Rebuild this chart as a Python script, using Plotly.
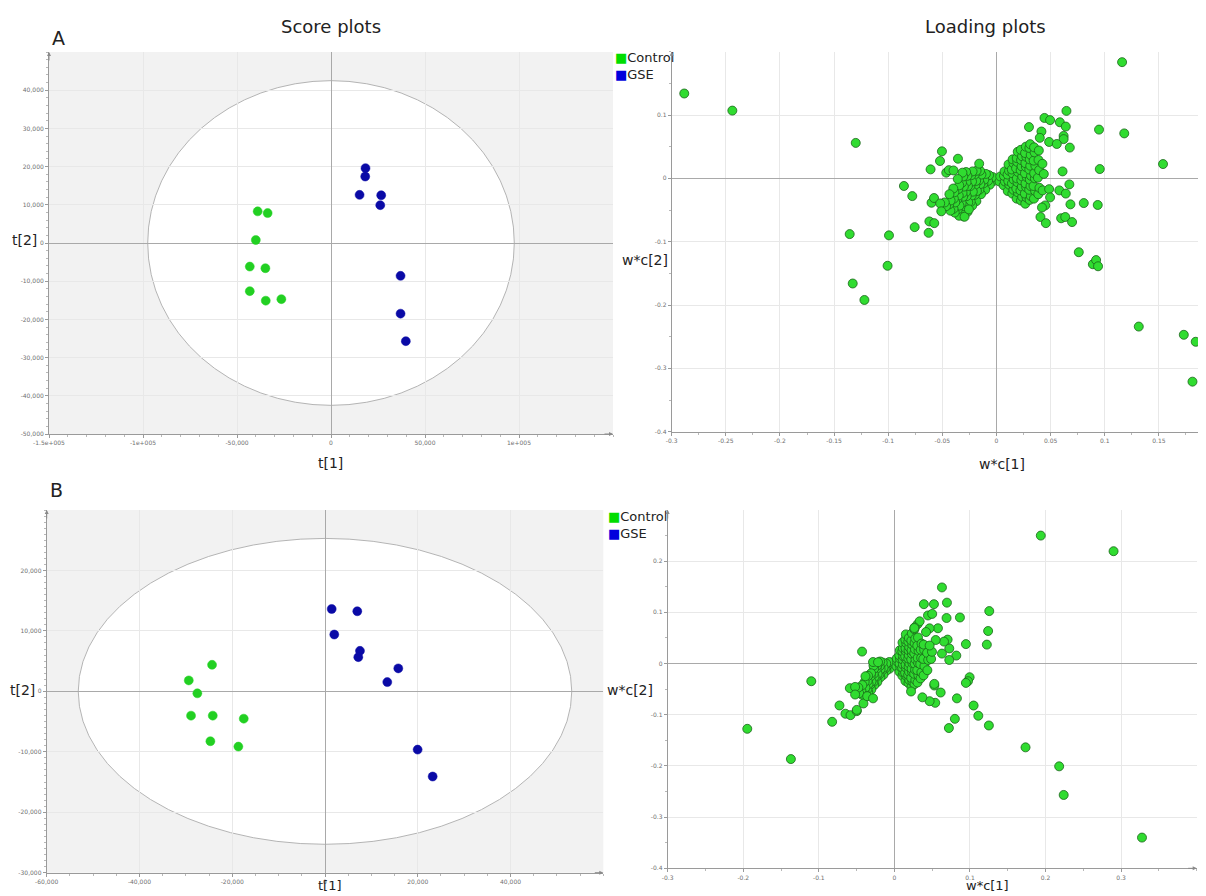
import plotly.graph_objects as go

# ---------------- DATA ----------------
# A - score plot
scoreA_ctrl_t1 = [-39000, -33700, -40000, -43200, -34900, -43200, -34700, -26400]
scoreA_ctrl_t2 = [8280, 7830, 780, -6170, -6600, -12600, -15100, -14700]
scoreA_gse_t1 = [18350, 18200, 15200, 26700, 26200, 37000, 37000, 39800]
scoreA_gse_t2 = [19600, 17400, 12600, 12500, 9900, -8600, -18500, -25700]
ellipseA = [97500, 42500]

# B - score plot
scoreB_ctrl_t1 = [-24350, -29370, -27520, -28880, -24200, -17520, -24710, -18680]
scoreB_ctrl_t2 = [4390, 1810, -330, -4020, -4020, -4520, -8250, -9140]
scoreB_gse_t1 = [1440, 6960, 2000, 7540, 7180, 15800, 13430, 19970, 23210]
scoreB_gse_t2 = [13630, 13250, 9400, 6700, 5660, 3800, 1530, -9640, -14090]
ellipseB = [53200, 25300]

# A - loading plot (scattered variables)
loadA_out_w1 = [-0.2884, -0.244, -0.130, -0.0855, -0.1356, -0.0993, -0.1006, -0.1328, -0.122,
                0.116, 0.0646, 0.0443, 0.0495, 0.0585, 0.064, 0.030, 0.0947, 0.118, 0.0415,
                0.040, 0.062, 0.062, 0.0486, 0.0557, 0.0677, 0.1538, 0.0954, 0.061, 0.0673,
                0.058, 0.064, 0.0806, 0.0935, 0.0683, 0.0486, 0.0495, 0.045, 0.042, 0.0406,
                0.0456, 0.0597, 0.0635, 0.0698, 0.076, 0.089, 0.092, 0.0938, 0.1314, 0.173,
                0.184, 0.181,
                -0.0778, -0.0756, -0.0627, -0.062, -0.0575, -0.060, -0.0577, -0.052, -0.051,
                -0.0609, -0.0522, -0.0504, -0.0356, -0.0464, -0.044, -0.0397, -0.016, -0.0295, -0.0255]
loadA_out_w2 = [0.134, 0.107, 0.056, -0.012, -0.088, -0.090, -0.138, -0.166, -0.192,
                0.1835, 0.1065, 0.0954, 0.092, 0.0886, 0.0818, 0.081, 0.077, 0.071, 0.074,
                0.064, 0.067, 0.062, 0.0575, 0.0543, 0.0486, 0.0226, 0.0147, 0.011, -0.0095,
                -0.019, -0.024, -0.039, -0.042, -0.041, -0.017, -0.030, -0.0427, -0.046, -0.061,
                -0.0707, -0.063, -0.061, -0.069, -0.1166, -0.1356, -0.129, -0.1388, -0.234, -0.247,
                -0.258, -0.321,
                -0.028, -0.077, -0.086, -0.068, -0.0707, -0.0385, -0.031, -0.0396, -0.052,
                0.0142, 0.0274, 0.0427, 0.031, 0.009, 0.013, 0.0125, 0.0232, -0.0606, -0.049]
# A - loading plot (dense negative lobe)
loadA_left_w1 = [-0.0025, -0.0035,
                 -0.0062, -0.0078, -0.0069,
                 -0.0104, -0.0121, -0.0113, -0.0098,
                 -0.0143, -0.0158, -0.0149, -0.0161, -0.0139, -0.0152,
                 -0.0186, -0.0199, -0.0181, -0.0195, -0.0188, -0.0201, -0.0184,
                 -0.0224, -0.0238, -0.0229, -0.0219, -0.0241, -0.0226, -0.0233, -0.0221,
                 -0.0268, -0.0279, -0.0261, -0.0275, -0.0283, -0.0264, -0.0277, -0.0269, -0.0281,
                 -0.0306, -0.0318, -0.0301, -0.0322, -0.0309, -0.0314, -0.0302, -0.0319, -0.0307, -0.0315,
                 -0.0346, -0.0357, -0.0342, -0.0361, -0.0349, -0.0353, -0.0344, -0.0358,
                 -0.0386, -0.0397, -0.0381, -0.0394, -0.0389, -0.0399,
                 -0.0426, -0.0437, -0.0424, -0.0435,
                 -0.0466, -0.0478]
loadA_left_w2 = [-0.004, 0.002,
                 -0.010, -0.004, 0.005,
                 -0.018, -0.008, -0.002, 0.007,
                 -0.025, -0.018, -0.009, -0.003, 0.006, 0.012,
                 -0.036, -0.026, -0.020, -0.010, -0.004, 0.006, 0.012,
                 -0.043, -0.037, -0.027, -0.021, -0.012, -0.005, 0.005, 0.011,
                 -0.053, -0.044, -0.038, -0.028, -0.022, -0.012, -0.006, 0.004, 0.010,
                 -0.060, -0.054, -0.044, -0.039, -0.029, -0.023, -0.013, -0.007, 0.003, 0.009,
                 -0.059, -0.049, -0.043, -0.033, -0.027, -0.017, -0.011, -0.001,
                 -0.054, -0.048, -0.038, -0.032, -0.022, -0.016,
                 -0.051, -0.041, -0.035, -0.025,
                 -0.044, -0.038]
# A - loading plot (dense positive lobe)
loadA_right_w1 = [0.0028, 0.0035,
                  0.0066, 0.0078, 0.0069, 0.0074,
                  0.0104, 0.0118, 0.0109, 0.0102, 0.0116, 0.0111,
                  0.0146, 0.0156, 0.0143, 0.0159, 0.0148, 0.0141, 0.0157, 0.0149,
                  0.0186, 0.0197, 0.0183, 0.0194, 0.0188, 0.0199, 0.0181, 0.0192, 0.0187, 0.0196,
                  0.0226, 0.0237, 0.0221, 0.0234, 0.0229, 0.0238, 0.0223, 0.0232, 0.0227, 0.0236, 0.0224,
                  0.0266, 0.0277, 0.0262, 0.0274, 0.0268, 0.0279, 0.0263, 0.0272, 0.0267, 0.0276, 0.0264, 0.0271,
                  0.0306, 0.0317, 0.0302, 0.0314, 0.0308, 0.0319, 0.0303, 0.0312, 0.0307, 0.0316, 0.0304, 0.0311,
                  0.0346, 0.0357, 0.0342, 0.0354, 0.0348, 0.0359, 0.0343, 0.0352, 0.0347,
                  0.0386, 0.0397, 0.0382, 0.0394, 0.0388, 0.0391,
                  0.0426, 0.0437, 0.0424]
loadA_right_w2 = [-0.005, 0.003,
                  -0.011, -0.005, 0.004, 0.011,
                  -0.020, -0.010, -0.004, 0.006, 0.012, 0.022,
                  -0.024, -0.018, -0.008, -0.002, 0.008, 0.014, 0.024, 0.030,
                  -0.032, -0.022, -0.016, -0.006, 0.000, 0.010, 0.016, 0.026, 0.032, 0.042,
                  -0.035, -0.029, -0.019, -0.013, -0.003, 0.003, 0.013, 0.019, 0.029, 0.035, 0.045,
                  -0.040, -0.030, -0.024, -0.014, -0.008, 0.002, 0.008, 0.018, 0.024, 0.034, 0.040, 0.050,
                  -0.034, -0.028, -0.018, -0.012, -0.002, 0.004, 0.014, 0.020, 0.030, 0.037, 0.048, 0.054,
                  -0.032, -0.020, -0.012, 0.000, 0.008, 0.020, 0.028, 0.041, 0.049,
                  -0.025, -0.015, 0.001, 0.013, 0.029, 0.044,
                  -0.019, 0.007, 0.023]

# B - loading plot (scattered variables)
loadB_out_w1 = [-0.0428, -0.110, -0.1947, -0.137, -0.0824, -0.0727, -0.0648, -0.0581, -0.0498,
                -0.0498, -0.059, -0.052, -0.052, -0.041, -0.036, -0.0383, -0.0283, -0.0283, -0.0217,
                0.1937, 0.290, 0.0629, 0.039, 0.0523, 0.0695, 0.0444, 0.050, 0.069, 0.0867,
                0.1255, 0.124, 0.1223, 0.0946, 0.0576, 0.0466, 0.0334, 0.0268, 0.0819, 0.0726,
                0.0995, 0.0973, 0.0946, 0.0827, 0.1048, 0.111, 0.125, 0.080, 0.0721, 0.0612,
                0.054, 0.0466, 0.037, 0.022, 0.0528, 0.0528, 0.1735, 0.218, 0.224, 0.3276,
                0.0629, 0.0726, 0.0704, 0.0656, 0.0546, 0.0466, 0.0418, 0.0264]
loadB_out_w2 = [0.0234, -0.0345, -0.1275, -0.1866, -0.1138, -0.0819, -0.098, -0.1008, -0.093,
                -0.0905, -0.048, -0.0456, -0.0605, -0.078, -0.0638, -0.0248, -0.068, 0.003, 0.0026,
                0.250, 0.2195, 0.1487, 0.116, 0.116, 0.119, 0.094, 0.097, 0.089, 0.090,
                0.1025, 0.0636, 0.037, 0.038, 0.069, 0.0688, 0.0825, 0.0707, 0.0156, 0.007,
                -0.0267, -0.0345, -0.0378, -0.068, -0.082, -0.102, -0.121, -0.108, -0.126, -0.0566,
                -0.0767, -0.0735, -0.066, -0.0546, -0.0429, -0.0397, -0.1637, -0.2008, -0.2567, -0.340,
                0.0195, 0.0295, 0.0468, 0.0429, 0.046, 0.0352, 0.0616, 0.0694]
# B - loading plot (dense negative lobe)
loadB_left_w1 = [-0.0027, -0.0036,
                 -0.0064, -0.0077, -0.0068,
                 -0.0106, -0.0118, -0.0109,
                 -0.0146, -0.0157, -0.0143, -0.0155,
                 -0.0186, -0.0198, -0.0183, -0.0194, -0.0189,
                 -0.0226, -0.0237, -0.0222, -0.0234, -0.0229,
                 -0.0266, -0.0278, -0.0263, -0.0274, -0.0269, -0.0277,
                 -0.0306, -0.0318, -0.0303, -0.0314, -0.0309,
                 -0.0346, -0.0357, -0.0342, -0.0354, -0.0349,
                 -0.0386, -0.0397, -0.0383, -0.0394,
                 -0.0426, -0.0437, -0.0424,
                 -0.0466, -0.0477]
loadB_left_w2 = [-0.003, 0.002,
                 -0.010, -0.002, 0.003,
                 -0.014, -0.009, 0.000,
                 -0.022, -0.013, -0.008, 0.002,
                 -0.027, -0.021, -0.011, -0.005, 0.004,
                 -0.036, -0.026, -0.020, -0.010, -0.004,
                 -0.042, -0.036, -0.026, -0.020, -0.010, -0.004,
                 -0.051, -0.041, -0.035, -0.025, -0.019,
                 -0.056, -0.050, -0.040, -0.034, -0.024,
                 -0.065, -0.054, -0.047, -0.036,
                 -0.061, -0.053, -0.042,
                 -0.058, -0.047]
# B - loading plot (dense positive lobe)
loadB_right_w1 = [0.0027, 0.0036, 0.0031,
                  0.0066, 0.0077, 0.0068, 0.0074, 0.0065, 0.0072,
                  0.0106, 0.0118, 0.0103, 0.0114, 0.0109, 0.0117, 0.0104, 0.0112, 0.0107,
                  0.0146, 0.0157, 0.0142, 0.0154, 0.0148, 0.0159, 0.0143, 0.0152, 0.0147, 0.0156, 0.0144, 0.0151,
                  0.0186, 0.0197, 0.0182, 0.0194, 0.0188, 0.0199, 0.0183, 0.0192, 0.0187, 0.0196, 0.0184, 0.0191,
                  0.0226, 0.0237, 0.0222, 0.0234, 0.0228, 0.0239, 0.0223, 0.0232, 0.0227, 0.0236, 0.0224, 0.0231,
                  0.0266, 0.0277, 0.0262, 0.0274, 0.0268, 0.0279, 0.0263, 0.0272, 0.0267, 0.0276, 0.0264,
                  0.0306, 0.0317, 0.0302, 0.0314, 0.0308, 0.0319, 0.0303, 0.0312, 0.0307,
                  0.0346, 0.0357, 0.0342, 0.0354, 0.0348, 0.0359,
                  0.0386, 0.0397, 0.0382, 0.0394, 0.0388,
                  0.0436, 0.0447, 0.0432,
                  0.0486, 0.0497]
loadB_right_w2 = [-0.005, 0.004, 0.010,
                  -0.016, -0.006, 0.000, 0.010, 0.016, 0.026,
                  -0.024, -0.018, -0.008, -0.002, 0.008, 0.014, 0.024, 0.030, 0.041,
                  -0.034, -0.024, -0.018, -0.008, -0.002, 0.008, 0.014, 0.024, 0.030, 0.040, 0.047, 0.057,
                  -0.038, -0.032, -0.022, -0.016, -0.006, 0.000, 0.010, 0.016, 0.026, 0.032, 0.043, 0.050,
                  -0.046, -0.035, -0.028, -0.017, -0.010, 0.001, 0.008, 0.019, 0.026, 0.037, 0.045, 0.059,
                  -0.040, -0.032, -0.020, -0.012, 0.000, 0.008, 0.020, 0.028, 0.040, 0.049, 0.067,
                  -0.037, -0.023, -0.013, 0.001, 0.011, 0.025, 0.035, 0.051, 0.077,
                  -0.029, -0.017, -0.001, 0.011, 0.027, 0.039,
                  -0.023, -0.005, 0.009, 0.027, 0.037,
                  -0.013, 0.007, 0.021,
                  0.009, 0.023]

# tick labels
scoreA_xticks = [-150000, -100000, -50000, 0, 50000, 100000]
scoreA_xlabels = ["-1.5e+005", "-1e+005", "-50,000", "0", "50,000", "1e+005"]
scoreA_yticks = [-50000, -40000, -30000, -20000, -10000, 0, 10000, 20000, 30000, 40000]
scoreA_ylabels = ["-50,000", "-40,000", "-30,000", "-20,000", "-10,000", "0",
                  "10,000", "20,000", "30,000", "40,000"]
scoreB_xticks = [-60000, -40000, -20000, 0, 20000, 40000]
scoreB_xlabels = ["-60,000", "-40,000", "-20,000", "0", "20,000", "40,000"]
scoreB_yticks = [-30000, -20000, -10000, 0, 10000, 20000]
scoreB_ylabels = ["-30,000", "-20,000", "-10,000", "0", "10,000", "20,000"]
loadA_xticks = [-0.3, -0.25, -0.2, -0.15, -0.1, -0.05, 0, 0.05, 0.1, 0.15]
loadA_xlabels = ["-0.3", "-0.25", "-0.2", "-0.15", "-0.1", "-0.05", "0", "0.05", "0.1", "0.15"]
loadA_yticks = [-0.4, -0.3, -0.2, -0.1, 0, 0.1]
loadA_ylabels = ["-0.4", "-0.3", "-0.2", "-0.1", "0", "0.1"]
loadB_xticks = [-0.3, -0.2, -0.1, 0, 0.1, 0.2, 0.3]
loadB_xlabels = ["-0.3", "-0.2", "-0.1", "0", "0.1", "0.2", "0.3"]
loadB_yticks = [-0.4, -0.3, -0.2, -0.1, 0, 0.1, 0.2]
loadB_ylabels = ["-0.4", "-0.3", "-0.2", "-0.1", "0", "0.1", "0.2"]

# ---------------- STYLE ----------------
FONT = "DejaVu Sans, Verdana, sans-serif"
GREEN = "#22d022"
BLUE = "#0a0aa6"
LGREEN = "#30dc30"
LEDGE = "#1a641a"
GRID = "#e8e8e8"
AXL = "#9a9a9a"
ZL = "#a9a9a9"

# the page body has an 8 px margin: work in reference pixels, shifted by it
OFF = 8.0
W, H = 1206.0 - OFF, 896.0 - OFF

fig = go.Figure()


def score_marker(color):
    return dict(color=color, size=9, line=dict(color=color, width=0.5))


load_marker = dict(color=LGREEN, size=9, line=dict(color=LEDGE, width=0.8))

fig.add_trace(go.Scatter(x=scoreA_ctrl_t1, y=scoreA_ctrl_t2, mode="markers",
                         marker=score_marker(GREEN), xaxis="x", yaxis="y"))
fig.add_trace(go.Scatter(x=scoreA_gse_t1, y=scoreA_gse_t2, mode="markers",
                         marker=score_marker(BLUE), xaxis="x", yaxis="y"))
for xs, ys in [(loadA_left_w1, loadA_left_w2), (loadA_right_w1, loadA_right_w2),
               (loadA_out_w1, loadA_out_w2)]:
    fig.add_trace(go.Scatter(x=xs, y=ys, mode="markers", marker=load_marker,
                             xaxis="x2", yaxis="y2"))
fig.add_trace(go.Scatter(x=scoreB_ctrl_t1, y=scoreB_ctrl_t2, mode="markers",
                         marker=score_marker(GREEN), xaxis="x3", yaxis="y3"))
fig.add_trace(go.Scatter(x=scoreB_gse_t1, y=scoreB_gse_t2, mode="markers",
                         marker=score_marker(BLUE), xaxis="x3", yaxis="y3"))
for xs, ys in [(loadB_left_w1, loadB_left_w2), (loadB_right_w1, loadB_right_w2),
               (loadB_out_w1, loadB_out_w2)]:
    fig.add_trace(go.Scatter(x=xs, y=ys, mode="markers", marker=load_marker,
                             xaxis="x4", yaxis="y4"))


def axis(domain, rng, tickvals, ticktext, anchor, minor_dtick):
    return dict(domain=domain, range=rng, tickvals=tickvals, ticktext=ticktext,
                anchor=anchor, automargin=False, showgrid=True, gridcolor=GRID, gridwidth=1,
                showline=True, linecolor=AXL, linewidth=1,
                zeroline=True, zerolinecolor=ZL, zerolinewidth=1.2,
                ticks="outside", ticklen=3, tickcolor=AXL,
                minor=dict(dtick=minor_dtick, ticks="outside", ticklen=2,
                           tickcolor="#b8b8b8", showgrid=False),
                tickfont=dict(size=6, color="#707070", family=FONT),
                fixedrange=True)


def dom_x(a, b):
    return [(a - OFF) / W, min(1.0, (b - OFF) / W)]


def dom_y(top, bottom):
    return [1 - (bottom - OFF) / H, 1 - (top - OFF) / H]


fig.update_layout(
    template="none",
    width=int(W), height=int(H),
    margin=dict(l=0, r=0, t=0, b=0, autoexpand=False),
    paper_bgcolor="white", plot_bgcolor="white",
    showlegend=False,
    font=dict(family=FONT, color="#222222"),
    xaxis=axis(dom_x(49, 613), [-150000, 150000], scoreA_xticks, scoreA_xlabels, "y", 10000),
    yaxis=axis(dom_y(52, 434), [-50000, 50000], scoreA_yticks, scoreA_ylabels, "x", 2000),
    xaxis2=axis(dom_x(671.7, 1206), [-0.3, 0.1935], loadA_xticks, loadA_xlabels, "y2", 0.025),
    yaxis2=axis(dom_y(51.7, 431.7), [-0.4, 0.2], loadA_yticks, loadA_ylabels, "x2", 0.05),
    xaxis3=axis(dom_x(46.7, 603.3), [-60000, 60000], scoreB_xticks, scoreB_xlabels, "y3", 5000),
    yaxis3=axis(dom_y(510, 872.7), [-30000, 30000], scoreB_yticks, scoreB_ylabels, "x3", 1000),
    xaxis4=axis(dom_x(667.7, 1196.7), [-0.3, 0.4], loadB_xticks, loadB_xlabels, "y4", 0.05),
    yaxis4=axis(dom_y(510, 868.3), [-0.4, 0.3], loadB_yticks, loadB_ylabels, "x4", 0.05),
)

shapes = []
for xr, yr, ell in [("x", "y", ellipseA), ("x3", "y3", ellipseB)]:
    shapes.append(dict(type="rect", xref=xr + " domain", yref=yr + " domain",
                       x0=0, x1=1, y0=0, y1=1, fillcolor="#f2f2f2",
                       line=dict(width=0), layer="below"))
    shapes.append(dict(type="circle", xref=xr, yref=yr,
                       x0=-ell[0], x1=ell[0], y0=-ell[1], y1=ell[1],
                       fillcolor="white", line=dict(color="#b4b4b4", width=1),
                       layer="below"))
fig.update_layout(shapes=shapes)

ann = []


def txt(x, y, s, size, xanchor="center", yanchor="middle"):
    ann.append(dict(xref="paper", yref="paper", x=(x - OFF) / W, y=1 - (y - OFF) / H,
                    text=s, showarrow=False, xanchor=xanchor, yanchor=yanchor,
                    font=dict(size=size, family=FONT, color="#222222")))


txt(331, 27, "Score plots", 18)
txt(985, 27, "Loading plots", 18)
txt(58, 38, "A", 19)
txt(56, 490, "B", 19)
txt(24, 240, "t[2]", 14)
txt(330, 463, "t[1]", 14)
txt(645, 260, "w*c[2]", 14)
txt(1002, 464, "w*c[1]", 14)
txt(22, 690, "t[2]", 14)
txt(330, 895, "t[1]", 13, yanchor="bottom")
txt(987, 895, "w*c[1]", 13, yanchor="bottom")
txt(630, 690, "w*c[2]", 14)

for lx, ly in [(613, 57), (606, 516)]:
    txt(lx, ly, "<span style='color:#00dd00'>■</span>Control", 13, "left")
    txt(lx, ly + 17, "<span style='color:#0000dd'>■</span>GSE", 13, "left")

for xr, yr, right in [("x", "y", True), ("x2", "y2", False), ("x3", "y3", True), ("x4", "y4", True)]:
    ann.append(dict(xref=xr + " domain", yref=yr + " domain", x=0, y=1.0, ax=0, ay=10,
                    text="", showarrow=True, arrowhead=2, arrowsize=0.8, arrowwidth=1,
                    arrowcolor="#8a8a8a"))
    if right:
        ann.append(dict(xref=xr + " domain", yref=yr + " domain", x=1.0, y=0, ax=-10, ay=0,
                        text="", showarrow=True, arrowhead=2, arrowsize=0.8, arrowwidth=1,
                        arrowcolor="#8a8a8a"))
fig.update_layout(annotations=ann)

fig.write_html("out.html")
